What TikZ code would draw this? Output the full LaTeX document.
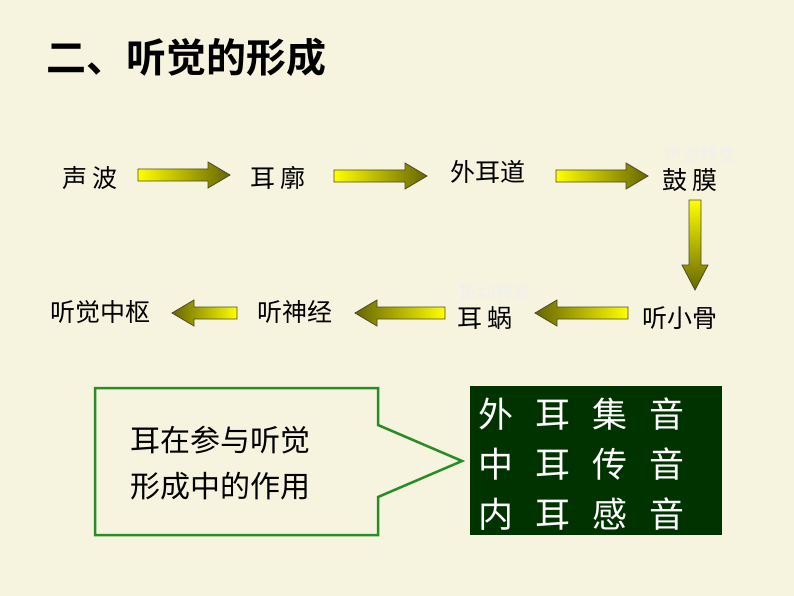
\documentclass[tikz,border=0pt]{standalone}
\usepackage{fontspec}
\newfontfamily\cjk{Noto Sans CJK SC}
\newfontfamily\cjkb{Noto Sans CJK SC Bold}
\newcommand{\gp}{\hspace{22pt}}
\begin{document}
\begin{tikzpicture}[x=1pt,y=-1pt,
  lbl/.style={font=\cjk\fontsize{25}{27}\selectfont, inner sep=0pt},
  ghost/.style={font=\cjk\fontsize{18}{20}\selectfont, text=black!6, inner sep=0pt},
  yarrow/.style={draw=black!60!olive, line width=0.8pt, left color=yellow, right color=olive!80!black}]
\useasboundingbox (0,0) rectangle (794,596);
\fill[color={rgb,255:red,246;green,243;blue,222}] (0,0) rectangle (794,596);
\node[font=\cjkb\fontsize{40}{42}\selectfont, anchor=west, inner sep=0pt] (title) at (46,57) {二、听觉的形成};
% ghost texts
\node[ghost] (g1) at (700,155) {声波转变};
\node[ghost] (g2) at (495,292) {振动转变};
% labels
\node[lbl] (a) at (90,178) {声\,波};
\node[lbl] (b) at (278,178) {耳\,廓};
\node[lbl] (c) at (488,172) {外耳道};
\node[lbl] (d) at (690,180) {鼓\,膜};
\node[lbl] (e) at (680,318) {听小骨};
\node[lbl] (f) at (485,318) {耳\,蜗};
\node[lbl] (g) at (295,312) {听神经};
\node[lbl] (h) at (100,312) {听觉中枢};
% right arrows
\foreach \xa/\xb/\yc in {138/230/175, 334/427/176, 556/648/176}{
  \path[yarrow] (\xa,\yc-6) -- (\xb-22,\yc-6) -- (\xb-22,\yc-13) -- (\xb,\yc) -- (\xb-22,\yc+13) -- (\xb-22,\yc+6) -- (\xa,\yc+6) -- cycle;
}
% left arrows
\foreach \xa/\xb/\yc in {172/237/313, 355/445/313, 535/628/313}{
  \path[draw=black!60!olive, line width=0.8pt, left color=olive!80!black, right color=yellow] (\xb,\yc-6) -- (\xa+22,\yc-6) -- (\xa+22,\yc-13) -- (\xa,\yc) -- (\xa+22,\yc+13) -- (\xa+22,\yc+6) -- (\xb,\yc+6) -- cycle;
}
% down arrow
\path[draw=black!60!olive, line width=0.8pt, top color=yellow, bottom color=olive!80!black] (689,200) -- (701,200) -- (701,265) -- (708,265) -- (695,290) -- (682,265) -- (689,265) -- cycle;
% green outline arrow
\draw[color={rgb,255:red,40;green,140;blue,40}, line width=2.5pt, line join=miter] (95,388) -- (378,388) -- (378,425) -- (462,461) -- (378,497) -- (378,535) -- (95,535) -- cycle;
\node[lbl, font=\cjk\fontsize{30}{46}\selectfont, align=left] (role) at (220,463) {耳在参与听觉\\形成中的作用};
% dark box
\node[fill={rgb,255:red,0;green,51;blue,0}, minimum width=252pt, minimum height=149pt, anchor=north west, inner sep=0pt] (box) at (470,386) {};
\node[font=\cjk\fontsize{35}{50}\selectfont, text=white, align=left, anchor=west, inner sep=0pt] (boxt) at (478,464) {外\gp 耳\gp 集\gp 音\\中\gp 耳\gp 传\gp 音\\内\gp 耳\gp 感\gp 音};
\end{tikzpicture}
\end{document}
